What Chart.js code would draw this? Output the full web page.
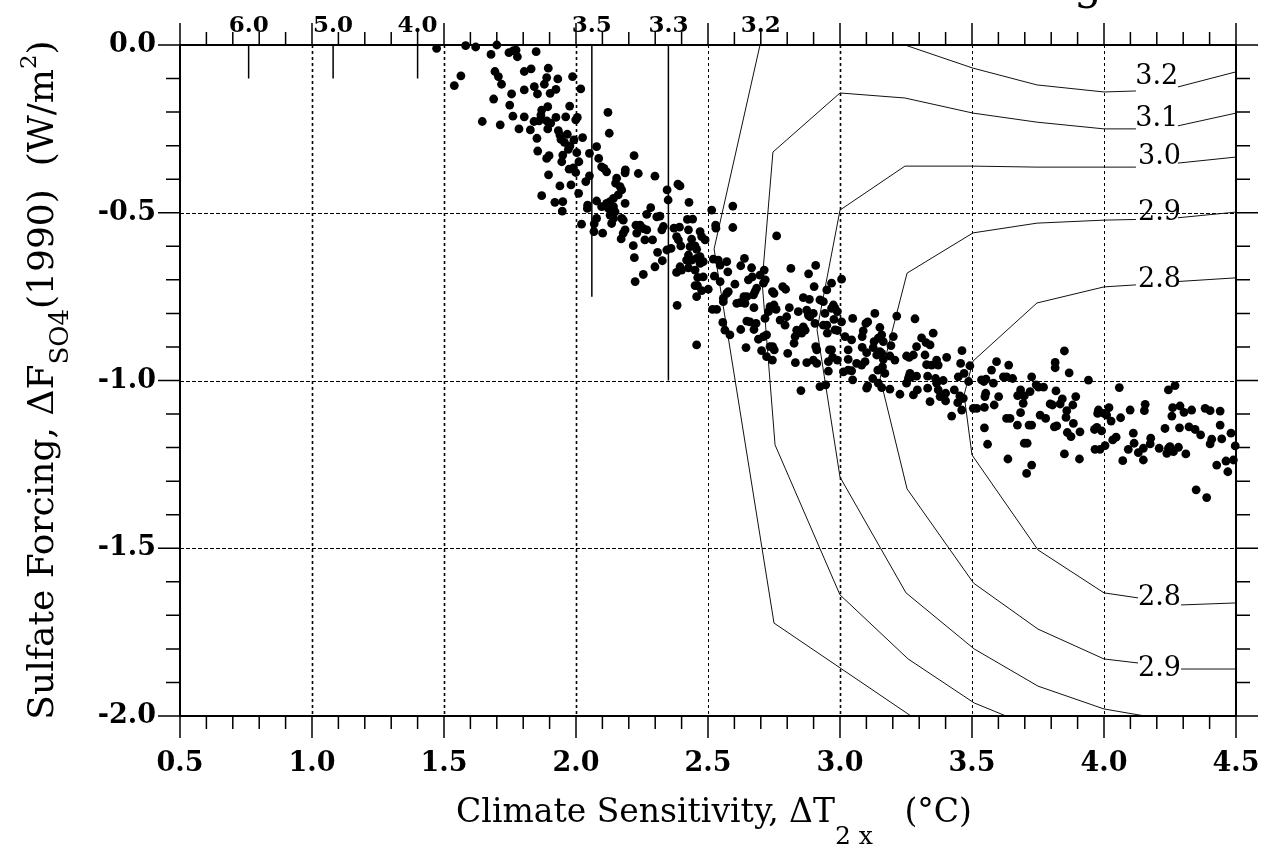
<!DOCTYPE html>
<html lang="en">
<head>
<meta charset="UTF-8">
<title>Sulfate Forcing vs Climate Sensitivity</title>
<script src="https://cdn.jsdelivr.net/npm/chart.js"></script>
<style>
  body { margin: 0; background: #fff; }
</style>
</head>
<body>
<canvas id="chart" width="1270" height="850"></canvas>
<script>
// ensemble members: climate sensitivity dT2x (degC) and 1990 sulfate forcing (W/m2)
const sensitivity = [
  1.472, 1.582, 1.620, 1.700, 1.678, 1.746, 1.763, 1.773, 1.778, 1.849,
  1.564, 1.539, 1.693, 1.706, 1.718, 1.804, 1.830, 1.895, 1.889, 1.931,
  1.987, 1.880, 1.842, 1.804, 1.854, 1.902, 1.924, 2.018, 1.756, 1.688,
  1.749, 1.870, 1.893, 1.645, 1.713, 1.761, 1.804, 1.784, 1.827, 1.841,
  1.860, 1.867, 1.889, 1.904, 1.924, 1.961, 1.976, 1.999, 2.005, 1.893,
  1.933, 1.939, 1.967, 1.852, 1.943, 1.956, 1.992, 2.025, 1.977, 1.971,
  1.855, 1.889, 1.898, 1.950, 1.946, 2.003, 2.011, 1.974, 1.990, 1.999,
  1.896, 1.939, 1.981, 1.870, 1.920, 1.950, 1.948, 2.010, 2.037, 2.051,
  2.051, 2.078, 2.086, 2.097, 2.106, 2.121, 2.126, 2.220, 2.187, 2.078,
  2.044, 2.043, 2.078, 2.069, 2.021, 2.068,
  2.116, 2.186, 2.236, 2.299, 2.154, 2.150, 2.167, 2.173, 2.160, 2.142,
  2.129, 2.116, 2.097, 2.123, 2.142, 2.186, 2.148, 2.129, 2.142, 2.135,
  2.173, 2.179, 2.101, 2.186, 2.179, 2.227, 2.243, 2.230, 2.255, 2.268,
  2.268, 2.283, 2.306, 2.318, 2.325, 2.331, 2.261, 2.290, 2.171, 2.217,
  2.221, 2.224, 2.255, 2.299, 2.309, 2.327, 2.345, 2.349, 2.386, 2.394,
  2.428, 2.344, 2.360, 2.371, 2.392, 2.381, 2.388, 2.397, 2.422, 2.442,
  2.426, 2.470, 2.476, 2.489, 2.438, 2.432, 2.451, 2.457, 2.426, 2.419,
  2.438, 2.457, 2.470, 2.470, 2.482, 2.394, 2.400, 2.381, 2.426, 2.451,
  2.461, 2.451, 2.460, 2.457, 2.482, 2.476, 2.501, 2.383, 2.457, 2.514,
  2.529, 2.530, 2.594, 2.594, 2.760, 2.520, 2.539, 2.546, 2.571, 2.575,
  2.524, 2.546, 2.517, 2.533, 2.558, 2.558, 2.571, 2.577, 2.556, 2.564,
  2.583, 2.602, 2.609, 2.621, 2.624, 2.638, 2.665, 2.653, 2.668, 2.636,
  2.647, 2.640, 2.672, 2.678, 2.684, 2.674, 2.647, 2.659, 2.682, 2.674,
  2.624, 2.644, 2.697, 2.713, 2.717, 2.710, 2.744, 2.750, 2.783, 2.794,
  2.750, 2.735, 2.729, 2.758, 2.716, 2.722, 2.710, 2.691, 2.703, 2.722,
  2.744, 2.745, 2.751, 2.735, 2.773, 2.792, 2.808, 2.798, 2.814, 2.881,
  2.908, 2.902, 2.861, 2.884, 2.842, 2.874, 2.880, 2.886, 2.899, 2.905,
  2.861, 2.868, 2.855, 2.836, 2.830, 2.802, 2.826, 2.831, 2.874, 2.899,
  2.912, 2.908, 2.912, 2.924, 2.937, 2.950, 2.943, 2.950, 2.952, 2.937,
  2.960, 2.956, 2.956, 2.924, 2.946, 2.852,
  2.968, 3.006, 2.975, 2.968, 2.981, 2.990, 2.977, 3.006, 2.981, 2.990,
  2.968, 2.972, 2.990, 3.019, 3.044, 3.048, 3.031, 3.031, 3.013, 3.031,
  3.044, 3.048, 3.063, 3.082, 3.095, 3.084, 3.101, 3.084, 3.088, 3.098,
  3.105, 3.132, 3.151, 3.129, 3.126, 3.145, 3.158, 3.164, 3.151, 3.158,
  3.139, 3.164, 3.143, 3.161, 3.170, 3.124, 3.145, 3.158, 3.101, 3.105,
  3.189, 3.227, 3.215, 3.202, 3.193, 3.189, 3.208, 3.284, 3.309, 3.326,
  3.341, 3.290, 3.278, 3.252, 3.262, 3.322, 3.328, 3.347, 3.353, 3.366,
  3.372, 3.265, 3.262, 3.271, 3.290, 3.259, 3.252, 3.332, 3.362, 3.366,
  3.391, 3.372, 3.379, 3.400, 3.404, 3.462, 3.457, 3.492, 3.448, 3.470,
  3.332, 3.341, 3.278, 3.293, 3.400, 3.433, 3.454, 3.461, 3.446, 3.467,
  3.461, 3.423, 3.487, 3.505, 3.518, 3.547, 3.545, 3.536, 3.553, 3.581,
  3.574, 3.593, 3.639, 3.619, 3.631, 3.654, 3.552, 3.549, 3.601, 3.584,
  3.547, 3.559, 3.631, 3.644, 3.672, 3.684, 3.694, 3.698, 3.684, 3.673,
  3.716, 3.698, 3.709, 3.636, 3.707,
  3.726, 3.720, 3.726, 3.726, 3.743, 3.752, 3.771, 3.758, 3.779, 3.818,
  3.815, 3.815, 3.850, 3.868, 3.842, 3.834, 3.805, 3.796, 3.859, 3.856,
  3.821, 3.812, 3.882, 3.893, 3.884, 3.861, 3.875, 3.909, 3.850, 3.907,
  3.941, 3.979, 3.976, 4.000, 4.010, 4.019, 4.027, 3.964, 3.973, 3.991,
  3.966, 3.985, 4.004, 4.033, 4.046, 4.058, 4.063, 4.071, 4.099, 4.111,
  4.114, 4.092, 4.130, 4.156, 4.153, 4.149, 4.149, 4.175, 4.177, 4.209,
  4.231, 4.238, 4.244, 4.250, 4.263, 4.282, 4.244, 4.269, 4.260, 4.257,
  4.288, 4.303, 4.286, 4.322, 4.332, 4.310, 4.345, 4.366, 4.383, 4.402,
  4.440, 4.440, 4.446, 4.408, 4.402, 4.349, 4.389, 4.427, 4.462, 4.469,
  4.481, 4.490, 4.497
];
const forcing = [
  -0.010, -0.002, -0.006, 0.000, -0.028, -0.023, -0.017, -0.015, -0.035, -0.020,
  -0.092, -0.121, -0.079, -0.094, -0.117, -0.079, -0.071, -0.069, -0.097, -0.101,
  -0.094, -0.117, -0.124, -0.134, -0.146, -0.144, -0.132, -0.131, -0.146, -0.161,
  -0.179, -0.194, -0.184, -0.228, -0.238, -0.212, -0.214, -0.250, -0.253, -0.228,
  -0.226, -0.209, -0.226, -0.233, -0.216, -0.214, -0.182, -0.223, -0.216, -0.250,
  -0.255, -0.268, -0.266, -0.278, -0.281, -0.290, -0.283, -0.276, -0.301, -0.311,
  -0.316, -0.338, -0.330, -0.328, -0.348, -0.321, -0.348, -0.370, -0.366, -0.380,
  -0.387, -0.420, -0.417, -0.449, -0.469, -0.467, -0.495, -0.442, -0.407, -0.390,
  -0.323, -0.303, -0.338, -0.363, -0.368, -0.201, -0.263, -0.330, -0.372, -0.465,
  -0.477, -0.487, -0.517, -0.533, -0.534, -0.556,
  -0.378, -0.381, -0.383, -0.391, -0.397, -0.412, -0.422, -0.432, -0.447, -0.457,
  -0.467, -0.472, -0.482, -0.487, -0.482, -0.472, -0.497, -0.507, -0.517, -0.532,
  -0.517, -0.522, -0.561, -0.551, -0.561, -0.537, -0.537, -0.561, -0.547, -0.551,
  -0.505, -0.485, -0.512, -0.510, -0.551, -0.541, -0.581, -0.581, -0.578, -0.598,
  -0.634, -0.705, -0.684, -0.661, -0.618, -0.643, -0.432, -0.462, -0.415, -0.420,
  -0.469, -0.611, -0.606, -0.546, -0.543, -0.571, -0.581, -0.599, -0.520, -0.519,
  -0.551, -0.556, -0.571, -0.581, -0.579, -0.601, -0.599, -0.609, -0.626, -0.641,
  -0.641, -0.636, -0.631, -0.651, -0.646, -0.661, -0.671, -0.678, -0.664, -0.671,
  -0.693, -0.717, -0.717, -0.750, -0.691, -0.732, -0.728, -0.776, -0.894, -0.492,
  -0.537, -0.546, -0.480, -0.544, -0.569, -0.638, -0.641, -0.656, -0.646, -0.676,
  -0.689, -0.705, -0.788, -0.788, -0.755, -0.765, -0.740, -0.735, -0.827, -0.850,
  -0.864, -0.713, -0.770, -0.768, -0.658, -0.636, -0.664, -0.700, -0.691, -0.750,
  -0.750, -0.770, -0.745, -0.735, -0.725, -0.783, -0.823, -0.825, -0.830, -0.848,
  -0.848, -0.902, -0.686, -0.671, -0.700, -0.710, -0.735, -0.740, -0.720, -0.728,
  -0.775, -0.780, -0.795, -0.788, -0.815, -0.864, -0.869, -0.877, -0.911, -0.929,
  -0.939, -0.899, -0.909, -0.899, -0.820, -0.835, -0.783, -0.810, -0.666, -0.682,
  -0.657, -0.720, -0.753, -0.758, -0.795, -0.790, -0.805, -0.810, -0.800, -0.830,
  -0.840, -0.850, -0.859, -0.850, -0.869, -0.919, -0.889, -0.947, -0.947, -0.939,
  -0.949, -0.899, -0.909, -0.760, -0.765, -0.730, -0.800, -0.835, -0.859, -0.835,
  -0.909, -0.944, -0.972, -1.018, -1.013, -1.030,
  -0.710, -0.698, -0.775, -0.785, -0.785, -0.795, -0.818, -0.825, -0.849, -0.851,
  -0.909, -0.931, -0.939, -0.869, -0.879, -0.815, -0.909, -0.937, -0.974, -0.969,
  -0.971, -0.998, -0.949, -0.954, -0.944, -0.901, -0.917, -0.869, -0.852, -0.830,
  -0.825, -0.800, -0.842, -0.884, -0.902, -0.874, -0.864, -0.884, -0.914, -0.919,
  -0.924, -0.937, -0.969, -0.959, -0.979, -0.994, -1.008, -1.021, -1.023, -1.016,
  -1.026, -1.041, -0.808, -0.869, -0.896, -0.927, -0.939, -0.816, -0.873, -0.887,
  -0.894, -0.899, -0.924, -0.927, -0.931, -0.924, -0.953, -0.954, -0.859, -0.939,
  -0.954, -0.979, -0.987, -0.989, -0.987, -0.994, -1.008, -0.987, -0.994, -1.008,
  -1.000, -1.028, -1.048, -1.038, -0.931, -0.911, -0.949, -0.956, -0.989, -0.979,
  -1.023, -1.063, -1.043, -1.028, -1.061, -1.028, -1.046, -1.053, -1.066, -1.053,
  -1.088, -1.106, -1.003, -1.083, -1.083, -1.080, -1.003, -0.998, -0.996, -1.008,
  -0.969, -0.944, -0.954, -0.989, -0.989, -0.994, -1.038, -1.048, -1.048, -1.073,
  -1.141, -1.190, -1.113, -1.113, -1.133, -1.096, -1.068, -1.046, -1.028, -1.045,
  -1.133, -1.187, -1.187, -1.234, -1.277,
  -0.989, -1.033, -1.133, -1.252, -1.013, -1.020, -1.020, -1.103, -1.113, -1.031,
  -0.946, -0.962, -0.912, -0.977, -1.055, -1.070, -1.073, -1.070, -1.090, -1.110,
  -1.135, -1.138, -1.073, -1.048, -1.128, -1.155, -1.167, -1.153, -1.219, -1.234,
  -0.999, -1.088, -1.098, -1.098, -1.103, -1.081, -1.121, -1.146, -1.140, -1.150,
  -1.205, -1.205, -1.194, -1.177, -1.169, -1.021, -1.111, -1.239, -1.088, -1.157,
  -1.187, -1.205, -1.215, -1.071, -1.090, -1.202, -1.237, -1.189, -1.172, -1.202,
  -1.143, -1.217, -1.202, -1.197, -1.212, -1.199, -1.028, -1.015, -1.081, -1.106,
  -1.076, -1.095, -1.141, -1.138, -1.088, -1.219, -1.146, -1.162, -1.083, -1.090,
  -1.091, -1.133, -1.174, -1.175, -1.189, -1.326, -1.349, -1.252, -1.240, -1.272,
  -1.157, -1.237, -1.195
];

// contour lines of temperature change; null splits a line where its label sits
const level32X = [2.697, 2.523, 2.750, 3.269, null, 3.246, 3.504, 3.746, 4.000, 4.121, null, 4.280, 4.500];
const level32Y = [0.000, -0.608, -1.723, -2.000, null, 0.000, -0.069, -0.119, -0.140, -0.137, null, -0.125, -0.080];
const level31X = [4.500, 4.280, null, 4.121, 4.000, 3.746, 3.504, 3.246, 3.000, 2.746, 2.705, 2.754, 3.000, 3.258, 3.508, 3.629];
const level31Y = [-0.203, -0.241, null, -0.250, -0.250, -0.230, -0.203, -0.158, -0.143, -0.319, -0.706, -1.192, -1.639, -1.830, -1.961, -2.000];
const level30X = [4.500, 4.280, null, 4.121, 4.000, 3.746, 3.504, 3.246, 3.000, 2.913, 3.000, 3.250, 3.508, 3.750, 4.000, 4.155];
const level30Y = [-0.334, -0.352, null, -0.364, -0.364, -0.364, -0.361, -0.361, -0.492, -0.849, -1.288, -1.633, -1.800, -1.911, -1.979, -2.000];
const level29X = [4.500, 4.280, null, 4.121, 4.000, 3.746, 3.504, 3.254, 3.152, 3.254, 3.506, 3.750, 4.000, 4.129, null, 4.292, 4.500];
const level29Y = [-0.498, -0.515, null, -0.520, -0.522, -0.531, -0.560, -0.680, -0.993, -1.323, -1.604, -1.741, -1.830, -1.842, null, -1.860, -1.860];
const level28X = [4.500, 4.280, null, 4.121, 4.000, 3.746, 3.504, 3.470, 3.500, 3.750, 4.000, 4.129, null, 4.292, 4.500];
const level28Y = [-0.694, -0.705, null, -0.715, -0.721, -0.769, -0.942, -1.043, -1.222, -1.505, -1.633, -1.648, null, -1.669, -1.663];

// contour labels on the right
const levelText = ['3.2', '3.1', '3.0', '2.9', '2.8', '2.8', '2.9'];
const levelLabelX = [4.20, 4.20, 4.21, 4.21, 4.21, 4.21, 4.21];
const levelLabelY = [-0.095, -0.221, -0.334, -0.501, -0.700, -1.648, -1.860];

// straight contours hanging from the top axis, and the top labels
const markerX = [0.76, 1.08, 1.40, 2.06, 2.35];
const markerEnd = [-0.10, -0.10, -0.10, -0.75, -1.00];
const topText = ['6.0', '5.0', '4.0', '3.5', '3.3', '3.2'];
const topX = [0.76, 1.08, 1.40, 2.06, 2.35, 2.70];

const gridX = [1.0, 1.5, 2.0, 2.5, 3.0, 3.5, 4.0];
const gridY = [-0.5, -1.0, -1.5];

const SERIF = '"DejaVu Serif", "Liberation Serif", serif';

function segments(xs, ys) {
  const out = [];
  let cur = [];
  xs.forEach((v, i) => {
    if (v === null) { out.push(cur); cur = []; }
    else cur.push({ x: v, y: ys[i] });
  });
  out.push(cur);
  return out;
}

const datasets = [{
  data: sensitivity.map((v, i) => ({ x: v, y: forcing[i] })),
  showLine: false,
  pointRadius: 4.4,
  pointBorderWidth: 0,
  pointBackgroundColor: '#000',
  clip: false
}];

[[level32X, level32Y], [level31X, level31Y], [level30X, level30Y],
 [level29X, level29Y], [level28X, level28Y]].forEach(([xs, ys]) => {
  segments(xs, ys).forEach(seg => datasets.push({
    data: seg, showLine: true, pointRadius: 0, borderColor: '#111',
    borderWidth: 1, tension: 0, clip: false
  }));
});

markerX.forEach((v, i) => datasets.push({
  data: [{ x: v, y: 0 }, { x: v, y: markerEnd[i] }],
  showLine: true, pointRadius: 0, borderColor: '#000', borderWidth: 1.5
}));

// draw text made of pieces with sub/superscripts, centred on cx
function drawParts(ctx, parts, cx, baseY) {
  let total = 0;
  parts.forEach(p => { ctx.font = p.size + 'px ' + SERIF; p.w = ctx.measureText(p.t).width; total += p.w; });
  let x = cx - total / 2;
  parts.forEach(p => {
    ctx.font = p.size + 'px ' + SERIF;
    ctx.fillText(p.t, x, baseY + (p.dy || 0));
    x += p.w;
  });
}

const decorations = {
  id: 'decorations',
  beforeDatasetsDraw(chart) {
    const { ctx, chartArea: a, scales: { x, y } } = chart;
    ctx.save();
    ctx.strokeStyle = '#000';
    ctx.setLineDash([3, 3]);
    gridX.forEach(v => {
      const px = Math.round(x.getPixelForValue(v)) + 0.5;
      ctx.lineWidth = (v === 2.5 || v >= 3.5) ? 1 : 1.6;
      ctx.beginPath(); ctx.moveTo(px, a.top); ctx.lineTo(px, a.bottom); ctx.stroke();
    });
    ctx.lineWidth = 1;
    ctx.setLineDash([4, 2]);
    gridY.forEach(v => {
      const py = Math.round(y.getPixelForValue(v)) + 0.5;
      ctx.beginPath(); ctx.moveTo(a.left, py); ctx.lineTo(a.right, py); ctx.stroke();
    });
    ctx.restore();
  },
  afterDatasetsDraw(chart) {
    const { ctx, chartArea: a, scales: { x, y } } = chart;
    ctx.save();
    ctx.strokeStyle = '#000';
    ctx.lineWidth = 2;
    ctx.strokeRect(a.left, a.top, a.right - a.left, a.bottom - a.top);
    ctx.lineWidth = 1.5;
    ctx.beginPath();
    for (let i = 0; i <= 40; i++) {
      const px = x.getPixelForValue(0.5 + i * 0.1);
      const len = i % 5 === 0 ? 22 : 13;
      ctx.moveTo(px, a.bottom); ctx.lineTo(px, a.bottom + len);
      ctx.moveTo(px, a.top); ctx.lineTo(px, a.top - len);
    }
    for (let i = 0; i <= 20; i++) {
      const py = y.getPixelForValue(-i * 0.1);
      const len = i % 5 === 0 ? 22 : 14;
      ctx.moveTo(a.left, py); ctx.lineTo(a.left - len, py);
      ctx.moveTo(a.right, py); ctx.lineTo(a.right + len, py);
    }
    ctx.stroke();

    ctx.fillStyle = '#000';
    ctx.textAlign = 'center';
    ctx.textBaseline = 'alphabetic';
    ctx.font = 'bold 23px ' + SERIF;
    topText.forEach((t, i) => ctx.fillText(t, x.getPixelForValue(topX[i]), a.top - 13));

    ctx.font = '27px ' + SERIF;
    ctx.textBaseline = 'middle';
    levelText.forEach((t, i) => ctx.fillText(t, x.getPixelForValue(levelLabelX[i]), y.getPixelForValue(levelLabelY[i])));

    // axis titles
    ctx.textAlign = 'left';
    ctx.textBaseline = 'alphabetic';
    drawParts(ctx, [
      { t: 'Climate Sensitivity, \u0394T', size: 33 },
      { t: '2 x', size: 25, dy: 22 },
      { t: '   (\u00B0C)', size: 33 }
    ], 714, 822);

    ctx.save();
    ctx.translate(53, 380);
    ctx.rotate(-Math.PI / 2);
    drawParts(ctx, [
      { t: 'Sulfate Forcing, \u0394F', size: 36 },
      { t: 'SO4', size: 26, dy: 15 },
      { t: '(1990)  (W/m', size: 36 },
      { t: '2', size: 23, dy: -17 },
      { t: ')', size: 36 }
    ], 0, 0);
    ctx.restore();

    // cut-off title above the frame
    ctx.textAlign = 'center';
    ctx.font = '44px ' + SERIF;
    ctx.fillText('g', 1088, -1);
    ctx.restore();
  }
};

new Chart(document.getElementById('chart'), {
  type: 'scatter',
  data: { datasets },
  options: {
    responsive: false,
    animation: false,
    events: [],
    layout: { padding: { left: 0, top: 45, right: 34, bottom: 0 } },
    plugins: { legend: { display: false }, tooltip: { enabled: false } },
    scales: {
      x: {
        type: 'linear', min: 0.5, max: 4.5,
        grid: { display: false, drawTicks: false },
        border: { display: false },
        ticks: {
          stepSize: 0.5, padding: 32, color: '#000', maxRotation: 0, autoSkip: false,
          font: { family: SERIF, size: 27, weight: 'bold' },
          callback: v => v.toFixed(1)
        },
        afterFit: s => { s.height = 134; s.paddingLeft = 0; s.paddingRight = 0; }
      },
      y: {
        type: 'linear', min: -2, max: 0,
        grid: { display: false, drawTicks: false },
        border: { display: false },
        ticks: {
          stepSize: 0.5, padding: 24, color: '#000',
          font: { family: SERIF, size: 27, weight: 'bold' },
          callback: v => v.toFixed(1)
        },
        afterFit: s => { s.width = 180; s.paddingTop = 0; s.paddingBottom = 0; }
      }
    }
  },
  plugins: [decorations]
});
</script>
</body>
</html>
